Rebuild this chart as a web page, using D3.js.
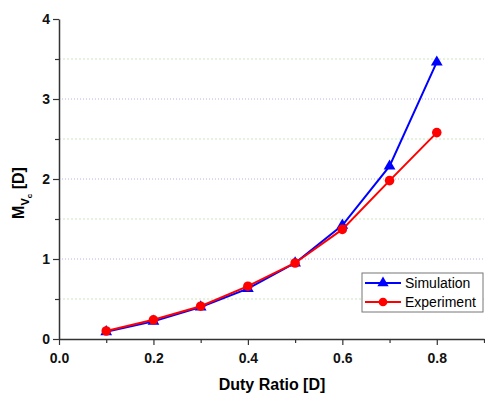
<!DOCTYPE html>
<html>
<head>
<meta charset="utf-8">
<script src="https://cdn.jsdelivr.net/npm/d3@7"></script>
<style>
  body { margin: 0; background: #fff; }
  svg { font-family: "Liberation Sans", Arial, sans-serif; }
</style>
</head>
<body>
<div id="chart"></div>
<script>
// data
const duty = [0.1, 0.2, 0.3, 0.4, 0.5, 0.6, 0.7, 0.8];
const simulation = [0.09, 0.22, 0.40, 0.63, 0.95, 1.42, 2.16, 3.46];
const experiment = [0.10, 0.24, 0.41, 0.66, 0.95, 1.37, 1.98, 2.58];
const xTicks = [0, 0.2, 0.4, 0.6, 0.8];
const yTicks = [0, 1, 2, 3, 4];

const W = 485, H = 397;
const m = { left: 59, right: 1, top: 19, bottom: 58 };

const svg = d3.select("#chart").append("svg")
  .attr("width", W).attr("height", H);

const x = d3.scaleLinear().domain([0, 0.9]).range([m.left, W - m.right]);
const y = d3.scaleLinear().domain([0, 4]).range([H - m.bottom, m.top]);

// grid lines
svg.append("g").selectAll("line")
  .data([0.5, 1.5, 2.5, 3.5])
  .join("line")
  .attr("x1", m.left).attr("x2", W - m.right)
  .attr("y1", d => y(d)).attr("y2", d => y(d))
  .style("stroke", "#c8e6c0").style("stroke-width", 1)
  .style("stroke-dasharray", "2,2");
svg.append("g").selectAll("line")
  .data([1, 2, 3])
  .join("line")
  .attr("x1", m.left).attr("x2", W - m.right)
  .attr("y1", d => y(d)).attr("y2", d => y(d))
  .style("stroke", "#b4b4e6").style("stroke-width", 1)
  .style("stroke-dasharray", "1,2");

// axes
const xAxis = svg.append("g")
  .attr("transform", "translate(0," + y(0) + ")")
  .call(d3.axisBottom(x).tickValues(xTicks).tickFormat(d3.format(".1f")).tickSizeInner(6).tickSizeOuter(0));
svg.append("g")
  .attr("transform", "translate(0," + y(0) + ")")
  .call(d3.axisBottom(x).tickValues([0.1, 0.3, 0.5, 0.7, 0.9]).tickFormat("").tickSizeInner(4).tickSizeOuter(0))
  .call(g => g.select(".domain").remove());
const yAxis = svg.append("g")
  .attr("transform", "translate(" + x(0) + ",0)")
  .call(d3.axisLeft(y).tickValues(yTicks).tickFormat(d3.format("d")).tickSizeInner(6).tickSizeOuter(0));
svg.append("g")
  .attr("transform", "translate(" + x(0) + ",0)")
  .call(d3.axisLeft(y).tickValues([0.5, 1.5, 2.5, 3.5]).tickFormat("").tickSizeInner(4).tickSizeOuter(0))
  .call(g => g.select(".domain").remove());

svg.selectAll(".domain").style("stroke", "#333").style("stroke-width", 1.5);
svg.selectAll(".tick line").style("stroke", "#333").style("stroke-width", 1.2);
svg.selectAll(".tick text")
  .style("font-size", "14px").style("font-weight", "bold").style("fill", "#111")
  .style("font-family", "'Liberation Sans', Arial, sans-serif");
xAxis.selectAll(".tick text").attr("dy", "1.1em");

// axis titles
svg.append("text")
  .attr("x", 272).attr("y", 390)
  .attr("text-anchor", "middle")
  .style("font-size", "16px").style("font-weight", "bold")
  .text("Duty Ratio [D]");

const yt = svg.append("text")
  .attr("transform", "translate(24," + 193 + ") rotate(-90)")
  .attr("text-anchor", "middle")
  .style("font-size", "16px").style("font-weight", "bold");
yt.append("tspan").text("M");
yt.append("tspan").attr("dy", 5).style("font-size", "11px").text("V");
yt.append("tspan").attr("dy", 3).style("font-size", "8px").text("c");
yt.append("tspan").attr("dy", -8).text(" [D]");

// series
const series = [
  { name: "Simulation", values: simulation, color: "#0000ff", symbol: d3.symbolTriangle },
  { name: "Experiment", values: experiment, color: "#ff0000", symbol: d3.symbolCircle }
];
const line = d3.line().x(d => x(d[0])).y(d => y(d[1]));

series.forEach(s => {
  const pts = duty.map((d, i) => [d, s.values[i]]);
  svg.append("path")
    .datum(pts)
    .attr("d", line)
    .style("fill", "none")
    .style("stroke", s.color)
    .style("stroke-width", 2);
  svg.append("g").selectAll("path")
    .data(pts)
    .join("path")
    .attr("d", d3.symbol().type(s.symbol).size(s.symbol === d3.symbolCircle ? 72 : 60))
    .attr("transform", d => "translate(" + x(d[0]) + "," + y(d[1]) + ")")
    .style("fill", s.color);
});

// legend
const lg = svg.append("g").attr("transform", "translate(362,273)");
lg.append("rect")
  .attr("width", 121).attr("height", 39)
  .style("fill", "#fff").style("stroke", "#777").style("stroke-width", 1);
series.forEach((s, i) => {
  const yy = 10 + i * 19;
  lg.append("line")
    .attr("x1", 3).attr("x2", 39).attr("y1", yy).attr("y2", yy)
    .style("stroke", s.color).style("stroke-width", 2);
  lg.append("path")
    .attr("d", d3.symbol().type(s.symbol).size(s.symbol === d3.symbolCircle ? 60 : 55))
    .attr("transform", "translate(21," + yy + ")")
    .style("fill", s.color);
  lg.append("text")
    .attr("x", 43).attr("y", yy + 5)
    .style("font-size", "14px")
    .text(s.name);
});
</script>
</body>
</html>
